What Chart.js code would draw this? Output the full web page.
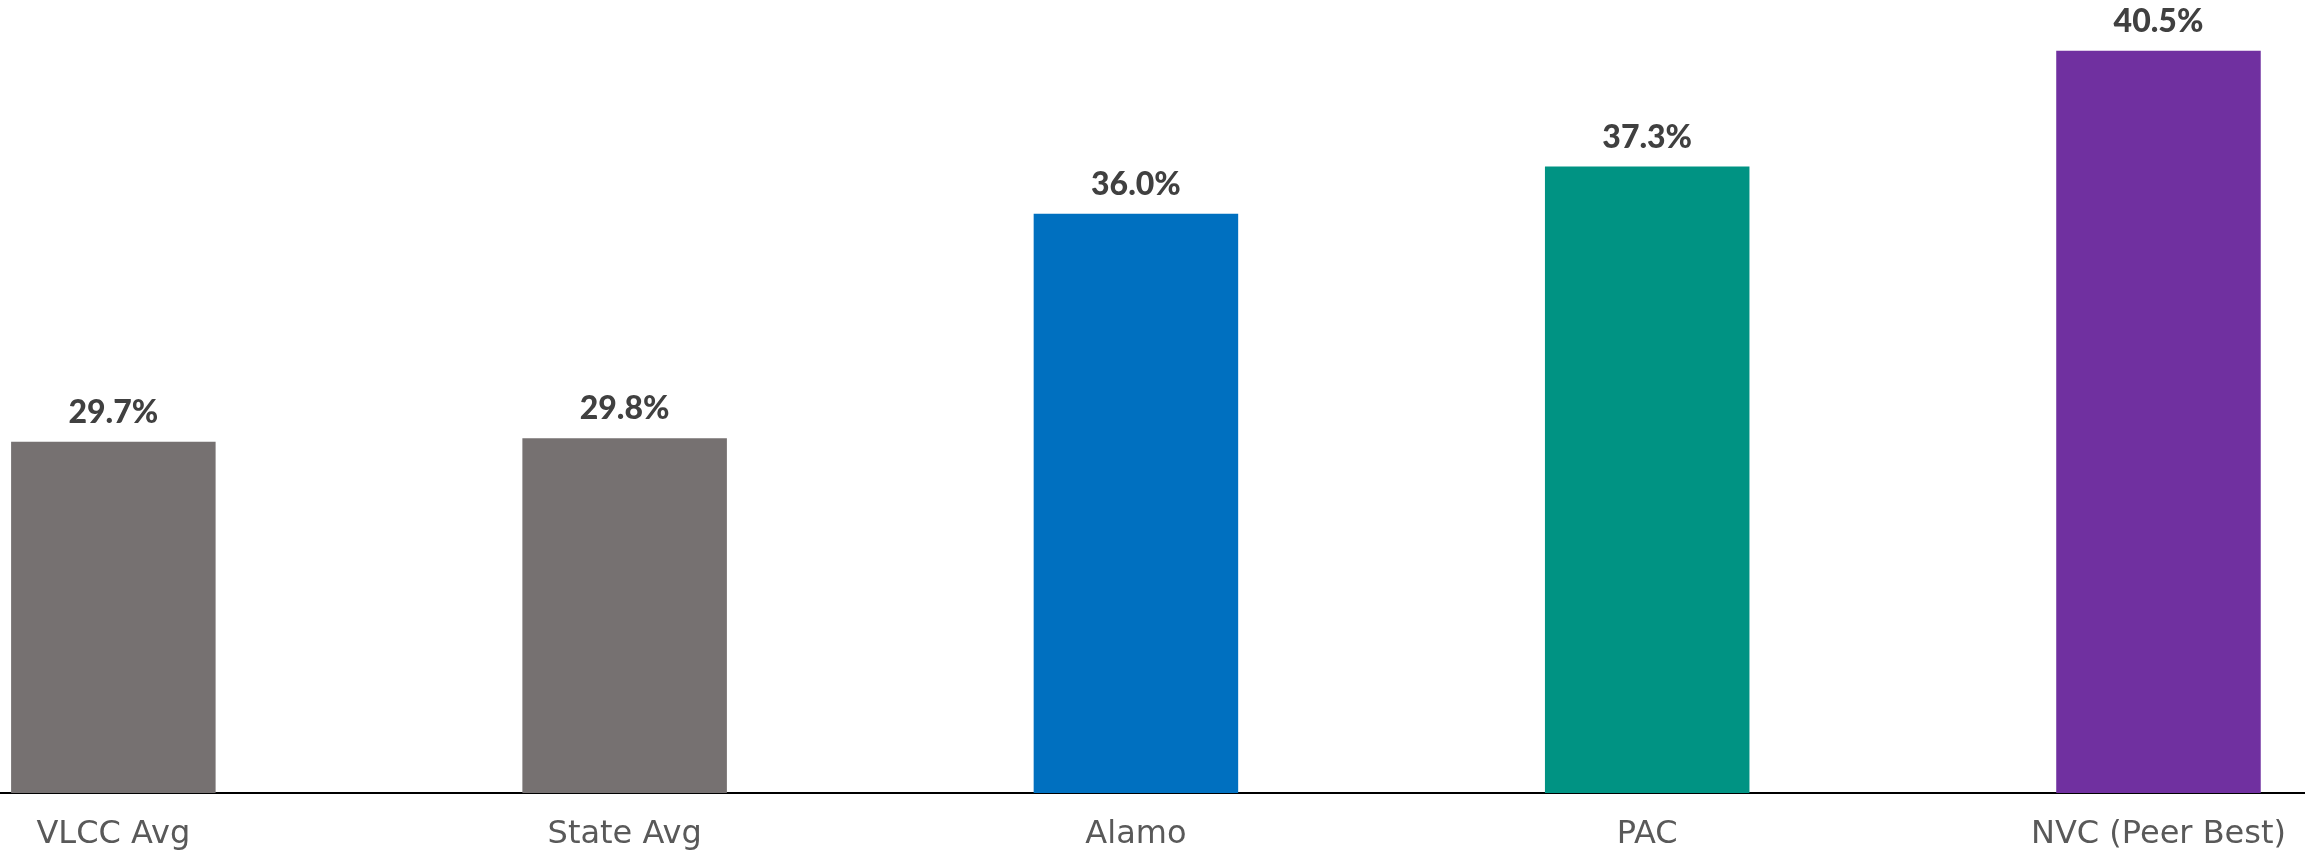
<!DOCTYPE html>
<html lang="en">
<head>
  <meta charset="UTF-8">
  <title>Peer comparison</title>
  <script src="https://cdn.jsdelivr.net/npm/chart.js"></script>
  <style>
    html, body { margin: 0; padding: 0; background: #fff; overflow: hidden; }
    #wrap { width: 2308px; height: 853px; position: relative; }
  </style>
</head>
<body>
  <div id="wrap"><canvas id="myChart"></canvas></div>

  <script>
    // data
    const categories = ['VLCC Avg', 'State Avg', 'Alamo', 'PAC', 'NVC (Peer Best)'];
    const values = [29.7, 29.8, 36.0, 37.3, 40.5];
    const barColors = ['#767171', '#767171', '#0070C0', '#009383', '#7030A0'];

    // value labels above each bar
    const valueLabels = {
      id: 'valueLabels',
      afterDatasetsDraw(chart) {
        const ctx = chart.ctx;
        const meta = chart.getDatasetMeta(0);
        ctx.save();
        ctx.font = '900 32px Lato';
        ctx.fillStyle = '#404040';
        ctx.textAlign = 'center';
        ctx.textBaseline = 'alphabetic';
        meta.data.forEach((bar, i) => {
          ctx.fillText(values[i].toFixed(1) + '%', bar.x, bar.y - 19);
        });
        ctx.restore();
      }
    };

    const ctx = document.getElementById('myChart').getContext('2d');
    const myChart = new Chart(ctx, {
      type: 'bar',
      data: {
        datasets: [{
          data: values.map((v, i) => ({ x: i, y: v })),
          backgroundColor: barColors,
          categoryPercentage: 1,
          barPercentage: 0.4
        }]
      },
      options: {
        responsive: true,
        maintainAspectRatio: false,
        animation: false,
        layout: { padding: 0 },
        plugins: {
          legend: { display: false },
          tooltip: { enabled: false }
        },
        scales: {
          x: {
            type: 'linear',
            offset: false,
            min: -0.2217,
            max: 4.2861,
            grid: { display: false, drawTicks: false },
            border: { display: true, color: '#000000', width: 2 },
            afterFit: (scale) => { scale.height = 60; },
            ticks: {
              stepSize: 1,
              includeBounds: false,
              autoSkip: false,
              maxRotation: 0,
              padding: 22,
              color: '#595959',
              font: { family: 'DejaVu Sans', size: 32 },
              callback: (v) => Number.isInteger(v) ? (categories[v] || '') : ''
            }
          },
          y: {
            display: false,
            min: 20,
            max: 41.9
          }
        }
      },
      plugins: [valueLabels]
    });
  </script>
</body>
</html>
